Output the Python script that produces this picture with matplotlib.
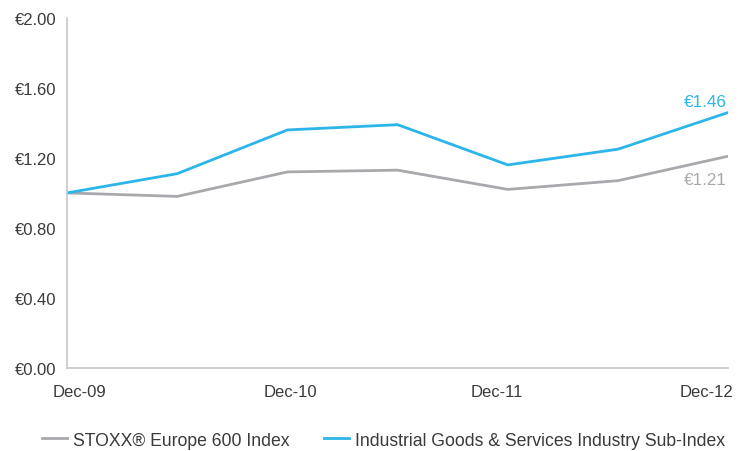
import matplotlib.pyplot as plt
from matplotlib.lines import Line2D

# half-year points, Dec-09 .. Dec-12
periods = ['Dec-09', 'Jun-10', 'Dec-10', 'Jun-11', 'Dec-11', 'Jun-12', 'Dec-12']
stoxx = [1.00, 0.98, 1.12, 1.13, 1.02, 1.07, 1.21]
industrial = [1.00, 1.11, 1.36, 1.39, 1.16, 1.25, 1.46]
tick_labels = ['Dec-09', 'Dec-10', 'Dec-11', 'Dec-12']
y_ticks = [0.0, 0.4, 0.8, 1.2, 1.6, 2.0]

gray = '#a7a9ac'
blue = '#2bb5e8'
text_col = '#3a3a3a'

plt.rcParams['font.family'] = ['Liberation Sans', 'DejaVu Sans']

fig = plt.figure(figsize=(7.48, 4.52), dpi=100)
ax = fig.add_axes([0.0896, 0.184, 0.884, 0.774])

x = list(range(len(periods)))
ax.plot(x, stoxx, color=gray, lw=2.0, solid_capstyle='butt')
ax.plot(x, industrial, color=blue, lw=2.0, solid_capstyle='butt')

ax.set_xlim(0, len(periods) - 1)
ax.set_ylim(0, 2.0)
ax.set_yticks(y_ticks)
ax.set_yticklabels([f'€{v:.2f}' for v in y_ticks])

# category labels sit slightly inward from the data points in the original
ax.set_xticks([0.11, 2.03, 3.90, 5.80])
ax.set_xticklabels(tick_labels)

ax.tick_params(axis='both', length=0, labelsize=12, colors=text_col)
ax.tick_params(axis='x', pad=12)
ax.tick_params(axis='y', pad=7.5)

for s in ['top', 'right']:
    ax.spines[s].set_visible(False)
for s in ['left', 'bottom']:
    ax.spines[s].set_color('#c4c6c8')
    ax.spines[s].set_linewidth(1.2)

ax.annotate(f'€{industrial[-1]:.2f}', xy=(x[-1], industrial[-1]), xytext=(-1, 2.5),
            textcoords='offset points', ha='right', va='bottom', color=blue, fontsize=12.3)
ax.annotate(f'€{stoxx[-1]:.2f}', xy=(x[-1], stoxx[-1]), xytext=(-1, -11.5),
            textcoords='offset points', ha='right', va='top', color=gray, fontsize=12.3)

handles = [Line2D([], [], color=gray, lw=2.0), Line2D([], [], color=blue, lw=2.0)]
fig.legend(handles, ['STOXX® Europe 600 Index', 'Industrial Goods & Services Industry Sub-Index'],
           loc='center', bbox_to_anchor=(0.513, 0.024), ncol=2, frameon=False,
           fontsize=12.7, handlelength=1.4, handletextpad=0.35, columnspacing=1.95,
           labelcolor=text_col)

fig.savefig('out.png', dpi=100)
